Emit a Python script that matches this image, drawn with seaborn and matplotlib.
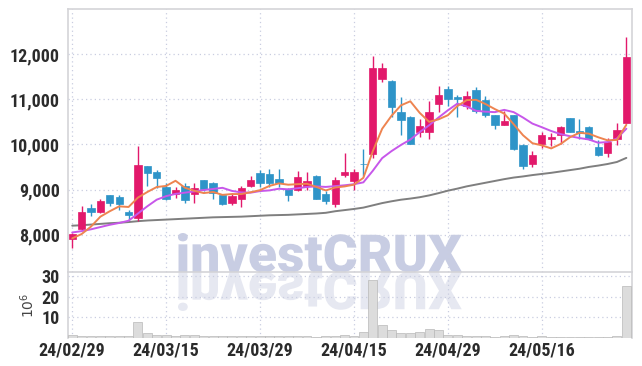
import numpy as np
import pandas as pd
import matplotlib
matplotlib.use("Agg")
import matplotlib.pyplot as plt
import seaborn as sns
from matplotlib.textpath import TextPath
from matplotlib.patches import PathPatch
from matplotlib.transforms import Affine2D, IdentityTransform
from matplotlib.font_manager import FontProperties, fontManager
from matplotlib.ticker import FuncFormatter

# daily OHLC (KRW), 60 trading days
opens = [7900, 8130, 8600, 8500, 8870, 8830, 8500, 8370, 9520, 9390,
         9050, 8900, 9080, 8900, 9210, 9140, 8890, 8710, 8800, 9080,
         9370, 9340, 9225, 9020, 8990, 9080, 9310, 8900, 8680, 9315,
         9180, 9570, 9785, 11440, 11410, 10715, 10610, 10270, 10270, 10890,
         11230, 11050, 10850, 11200, 10980, 10640, 10435, 10640, 9990, 9565,
         10005, 10125, 10210, 10580, 10300, 10390, 9945, 9815, 10125, 10480]
highs = [8030, 8640, 8680, 8790, 8880, 8890, 8550, 9960, 9530, 9430,
         9140, 9050, 9140, 9150, 9220, 9170, 8900, 8920, 9080, 9300,
         9430, 9450, 9450, 9030, 9400, 9390, 9320, 8970, 9270, 9800,
         9460, 9890, 11950, 11790, 11430, 11040, 10635, 10550, 10950, 11290,
         11290, 11085, 11170, 11260, 11070, 10650, 10730, 10650, 10000, 9860,
         10270, 10260, 10400, 10590, 10555, 10400, 10095, 10140, 10465, 12370]
lows = [7710, 8100, 8420, 8470, 8640, 8550, 8330, 8310, 9080, 9030,
        8770, 8810, 8700, 8700, 8970, 8790, 8650, 8660, 8610, 9050,
        9060, 9060, 9060, 8750, 8960, 9000, 8790, 8680, 8620, 9280,
        9000, 9300, 9700, 11390, 10600, 10200, 10000, 10170, 10110, 10715,
        10850, 10600, 10790, 10700, 10610, 10330, 10430, 9880, 9450, 9490,
        9920, 9960, 10005, 10270, 10125, 10100, 9740, 9710, 9980, 10465]
closes = [8015, 8500, 8500, 8750, 8710, 8680, 8430, 9540, 9370, 9260,
          8800, 9000, 8770, 9030, 9010, 8920, 8680, 8860, 9030, 9210,
          9150, 9150, 9140, 8885, 9270, 9195, 8800, 8750, 9210, 9390,
          9390, 9555, 11690, 11700, 10830, 10540, 10005, 10405, 10715, 11100,
          11000, 11010, 11070, 10745, 10640, 10435, 10510, 9900, 9520, 9760,
          10200, 10170, 10390, 10270, 10245, 10110, 9770, 10050, 10315, 11925]

# moving average lines as drawn
ma5 = [7920, 8015, 8180, 8400, 8520, 8628, 8614, 8822, 8946, 9056,
       9080, 9194, 9040, 8972, 8922, 8946, 8882, 8900, 8900, 8940,
       8986, 9080, 9136, 9107, 9119, 9128, 9058, 8980, 9045, 9069,
       9108, 9259, 9847, 10345, 10633, 10863, 10953, 10696, 10499, 10553,
       10645, 10846, 10979, 10985, 10893, 10780, 10680, 10446, 10201, 10025,
       9978, 9910, 10008, 10158, 10255, 10237, 10157, 10089, 10098, 10434]
ma10 = [8050, 8080, 8120, 8170, 8220, 8260, 8310, 8470, 8630, 8776,
        8854, 8904, 8931, 8959, 8989, 9013, 9038, 8970, 8936, 8931,
        8966, 8981, 9018, 9004, 9030, 9057, 9069, 9058, 9076, 9094,
        9118, 9159, 9414, 9695, 9851, 9986, 10106, 10272, 10422, 10593,
        10754, 10900, 10838, 10742, 10723, 10713, 10763, 10713, 10593, 10459,
        10379, 10295, 10227, 10180, 10140, 10108, 10036, 10051, 10130, 10346]
ma60 = [8200, 8210, 8225, 8240, 8255, 8265, 8280, 8300, 8315, 8325,
        8335, 8345, 8355, 8365, 8375, 8385, 8390, 8395, 8400, 8410,
        8420, 8430, 8435, 8440, 8450, 8460, 8470, 8485, 8520, 8545,
        8570, 8600, 8650, 8700, 8740, 8775, 8800, 8830, 8870, 8920,
        8975, 9020, 9070, 9110, 9150, 9190, 9230, 9265, 9290, 9320,
        9345, 9370, 9400, 9430, 9460, 9500, 9530, 9565, 9610, 9700]

# volume in millions of shares
volume = [1.3, 0.8, 0.7, 0.8, 0.7, 0.8, 0.6, 7.5, 2.1, 1.3,
          1.3, 1.0, 1.3, 1.3, 1.0, 0.8, 0.6, 0.8, 0.6, 0.9,
          0.6, 0.6, 0.8, 0.6, 0.8, 0.6, 0.5, 0.6, 0.7, 1.3,
          0.9, 2.6, 28.5, 6.2, 4.0, 2.1, 2.1, 2.8, 4.2, 3.8,
          1.3, 1.3, 0.8, 0.8, 0.8, 0.5, 0.8, 1.3, 0.8, 0.5,
          0.8, 0.5, 0.4, 0.4, 0.4, 0.4, 0.4, 0.5, 0.8, 25.3]

date_ticks = [0, 10, 20, 30, 40, 50]
date_labels = ["24/02/29", "24/03/15", "24/03/29", "24/04/15", "24/04/29", "24/05/16"]

df = pd.DataFrame({"idx": np.arange(len(closes)), "open": opens, "high": highs,
                   "low": lows, "close": closes, "ma5": ma5, "ma10": ma10,
                   "ma60": ma60, "volume": volume})

sns.set_theme(style="white")

# pick a narrow font for tick labels if one is installed
fonts = [(f.name, f.stretch) for f in fontManager.ttflist]
names = set(n for n, _ in fonts)
tick_stretch = "normal"
if "Liberation Sans Narrow" in names:
    tick_family, tick_size = "Liberation Sans Narrow", 13
elif "Roboto Condensed" in names:
    tick_family, tick_size = "Roboto Condensed", 13
elif ("DejaVu Sans", "condensed") in fonts or ("DejaVu Sans", "semi-condensed") in fonts:
    tick_family, tick_size, tick_stretch = "DejaVu Sans", 12, "condensed"
else:
    tick_family, tick_size = "Roboto", 11
plt.rcParams["font.family"] = [tick_family, "DejaVu Sans"]

up_col = "#e2196b"
down_col = "#2e94c8"
grid_col = "#c9cde0"
spine_col = "#d4d4d8"

fig = plt.figure(figsize=(6.42, 3.66), dpi=100)
ax = fig.add_axes([0.1059, 0.2568, 0.8785, 0.7186])
axv = fig.add_axes([0.1059, 0.0773, 0.8785, 0.1795], sharex=ax)
for a in (ax, axv):
    a.set_facecolor("none")

# candles
up = df["close"] >= df["open"]
colors = np.where(up, up_col, down_col)
body_low = np.minimum(df["open"], df["close"])
body_h = np.maximum(np.abs(df["close"] - df["open"]), 12)
ax.vlines(df["idx"], df["low"], df["high"], colors=colors, linewidth=1.0, zorder=3)
ax.bar(df["idx"], body_h, bottom=body_low, width=0.78, color=colors,
       edgecolor=colors, linewidth=0.5, zorder=4)

# moving averages
sns.lineplot(data=df, x="idx", y="ma60", ax=ax, color="#7f7f7f", linewidth=1.4, zorder=2)
sns.lineplot(data=df, x="idx", y="ma10", ax=ax, color="#c757ea", linewidth=1.4, zorder=5)
sns.lineplot(data=df, x="idx", y="ma5", ax=ax, color="#ee8450", linewidth=1.4, zorder=6)

ax.set_xlim(-0.45, 59.6)
ax.set_ylim(7175, 12995)
ax.set_yticks([8000, 9000, 10000, 11000, 12000])
ax.yaxis.set_major_formatter(FuncFormatter(lambda v, p: f"{int(v):,}"))
ax.set_xticks(date_ticks)
ax.tick_params(axis="x", labelbottom=False, length=0)
ax.tick_params(axis="y", length=0, pad=6)
ax.set_xlabel("")
ax.set_ylabel("")
ax.grid(True, linestyle=(0, (1, 2.5)), color=grid_col, linewidth=0.9)

# volume
sns.barplot(data=df, x="idx", y="volume", ax=axv, native_scale=True, errorbar=None,
            color="#dcdcdc", edgecolor="#b8b8b8", linewidth=0.5, width=0.95, zorder=3)
axv.set_ylim(0, 32.2)
axv.set_yticks([10, 20, 30])
axv.set_xticks(date_ticks)
axv.set_xticklabels(date_labels)
axv.set_xlim(-0.45, 59.6)
axv.tick_params(axis="both", length=0)
axv.tick_params(axis="y", pad=6)
axv.tick_params(axis="x", pad=3)
axv.set_xlabel("")
axv.set_ylabel(r"$10^6$", fontsize=10, color="#444444", labelpad=3, family="DejaVu Sans")
axv.grid(True, linestyle=(0, (1, 2.5)), color=grid_col, linewidth=0.9)

for a in (ax, axv):
    for lab in a.get_xticklabels() + a.get_yticklabels():
        lab.set_fontsize(tick_size)
        lab.set_fontweight("bold")
        lab.set_fontstretch(tick_stretch)
        lab.set_color("#2b2b2b")
    for s in a.spines.values():
        s.set_color(spine_col)
        s.set_linewidth(1.2)
axv.spines["bottom"].set_visible(False)
ax.spines["bottom"].set_visible(False)

# watermark and its reflection
tp = TextPath((0, 0), "investCRUX", size=50, prop=FontProperties(family="Roboto", weight="black"))
bb = tp.get_extents()
sx = 284 / bb.width
sy = 39 / bb.y1
wm = Affine2D().translate(-bb.x0, 0).scale(sx, sy).translate(178, 94)
fig.add_artist(PathPatch(wm.transform_path(tp), transform=IdentityTransform(),
                         facecolor="#c8cde3", edgecolor="none", zorder=-1))
rf = Affine2D().translate(-bb.x0, 0).scale(sx, -sy).translate(178, 94)
fig.add_artist(PathPatch(rf.transform_path(tp), transform=IdentityTransform(),
                         facecolor="#e6e8f1", edgecolor="none", zorder=-1))

fig.savefig("out.png", dpi=100)
